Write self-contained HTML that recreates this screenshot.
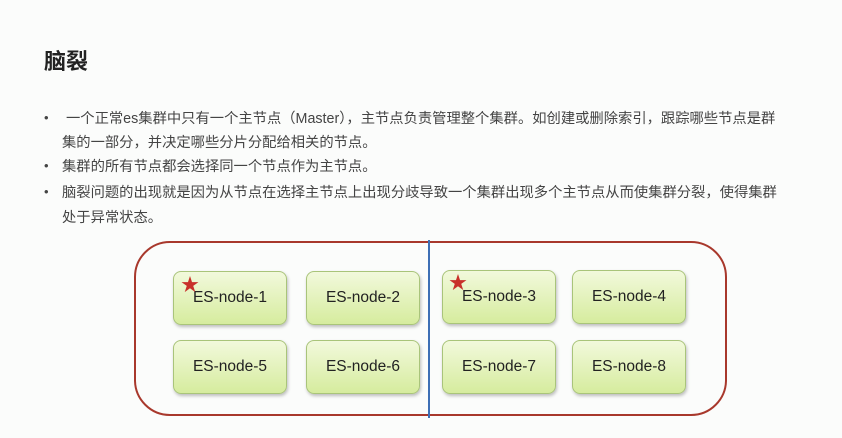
<!DOCTYPE html>
<html><head><meta charset="utf-8"><style>
body{margin:0;width:842px;height:438px;background:#fbfcfb;font-family:"Liberation Sans","Noto Sans CJK SC",sans-serif;position:relative;overflow:hidden;color:#333}
.t{position:absolute;left:44px;top:44px;font-size:22px;font-weight:bold;color:#222}
.l{position:absolute;font-size:14.3px;color:#444;white-space:nowrap}
.b{position:absolute;left:44px;font-size:13px;color:#444}
.box{position:absolute;left:134px;top:241px;width:589px;height:171px;border:2px solid #a8382c;border-radius:36px}
.v{position:absolute;left:428px;top:240px;width:2px;height:178px;background:#3d6fb5}
.n{position:absolute;width:112px;height:52px;border:1px solid #a9c47a;border-radius:8px;background:linear-gradient(#f2f9dc,#d6ec9e);box-shadow:1px 2px 3px rgba(0,0,0,.25);font-size:15.5px;color:#222;display:flex;align-items:center;justify-content:center}
.s{position:absolute;color:#c8302a;font-size:18px;line-height:18px}
</style></head><body>
<div class="t">脑裂</div>
<div class="b" style="top:110px">•</div><div class="l" style="left:66px;top:107px">一个正常es集群中只有一个主节点（Master），主节点负责管理整个集群。如创建或删除索引，跟踪哪些节点是群</div>
<div class="l" style="left:62px;top:131px">集的一部分，并决定哪些分片分配给相关的节点。</div>
<div class="b" style="top:158px">•</div><div class="l" style="left:62px;top:155px">集群的所有节点都会选择同一个节点作为主节点。</div>
<div class="b" style="top:184px">•</div><div class="l" style="left:62px;top:181px">脑裂问题的出现就是因为从节点在选择主节点上出现分歧导致一个集群出现多个主节点从而使集群分裂，使得集群</div>
<div class="l" style="left:62px;top:206px">处于异常状态。</div>
<div class="box"></div>
<div class="v"></div>
<div class="n" style="left:173px;top:271px">ES-node-1</div>
<div class="n" style="left:306px;top:271px">ES-node-2</div>
<div class="n" style="left:442px;top:270px">ES-node-3</div>
<div class="n" style="left:572px;top:270px">ES-node-4</div>
<div class="n" style="left:173px;top:340px">ES-node-5</div>
<div class="n" style="left:306px;top:340px">ES-node-6</div>
<div class="n" style="left:442px;top:340px">ES-node-7</div>
<div class="n" style="left:572px;top:340px">ES-node-8</div>
<div class="s" style="left:181px;top:276px">★</div>
<div class="s" style="left:449px;top:274px">★</div>
</body></html>
